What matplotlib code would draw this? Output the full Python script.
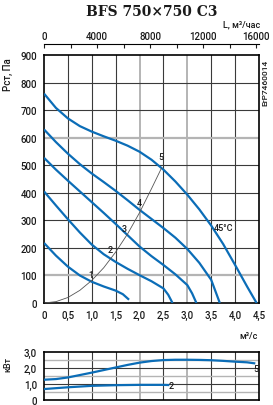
import matplotlib
matplotlib.use("Agg")
import matplotlib.pyplot as plt
import numpy as np

plt.rcParams['font.family'] = ['Roboto', 'DejaVu Sans']
plt.rcParams['font.weight'] = 'medium'

# --- data (Q in m3/s, P in Pa) ---
c1_q = [0, 0.25, 0.5, 0.75, 1.0, 1.25, 1.5, 1.65, 1.78]
c1_p = [218, 172, 132, 100, 77, 60, 45, 32, 12]

c2_q = [0, 0.25, 0.5, 0.75, 1.0, 1.25, 1.5, 1.75, 2.0, 2.25, 2.5, 2.6, 2.69]
c2_p = [405, 354, 304, 256, 212, 177, 149, 124, 101, 79, 53, 30, 0]

c3_q = [0, 0.25, 0.5, 0.75, 1.0, 1.25, 1.5, 1.75, 2.0, 2.25, 2.5, 2.75, 3.0, 3.1, 3.19]
c3_p = [527, 484, 444, 405, 366, 327, 287, 246, 205, 170, 138, 104, 65, 35, 0]

c4_q = [0, 0.25, 0.5, 0.75, 1.0, 1.25, 1.5, 1.75, 2.0, 2.25, 2.5, 2.75, 3.0, 3.25, 3.5, 3.68]
c4_p = [630, 584, 542, 504, 470, 439, 407, 373, 338, 305, 272, 237, 196, 146, 84, 0]

c5_q = [0, 0.25, 0.5, 0.75, 1.0, 1.25, 1.5, 1.75, 2.0, 2.25, 2.5, 2.75, 3.0, 3.25, 3.5, 3.75, 4.0, 4.25, 4.45]
c5_p = [760, 708, 670, 642, 622, 605, 589, 571, 549, 520, 484, 441, 393, 340, 281, 214, 138, 60, 0]

sys_q = [0, 0.25, 0.5, 0.75, 1.0, 1.25, 1.5, 1.75, 2.0, 2.25, 2.46]
sys_p = [0, 5, 20, 46, 82, 128, 185, 251, 328, 415, 490]

curve_names = ['1', '2', '3', '4', '5']
name_q = [0.98, 1.38, 1.67, 2.0, 2.45]
name_p = [102, 196, 272, 363, 533]

# power, kW
pw5_q = [0, 0.25, 0.5, 0.75, 1.0, 1.25, 1.5, 1.75, 2.0, 2.25, 2.5, 2.75, 3.0, 3.25, 3.5, 3.75, 4.0, 4.25, 4.4]
pw5_n = [1.26, 1.30, 1.40, 1.55, 1.70, 1.86, 2.02, 2.18, 2.32, 2.42, 2.48, 2.50, 2.50, 2.49, 2.47, 2.43, 2.38, 2.34, 2.28]
pw2_q = [0, 0.5, 1.0, 1.5, 2.0, 2.5, 2.6]
pw2_n = [0.68, 0.79, 0.88, 0.92, 0.94, 0.94, 0.93]

q_ticks = [0, 0.5, 1.0, 1.5, 2.0, 2.5, 3.0, 3.5, 4.0, 4.5]
q_labels = ['0', '0,5', '1,0', '1,5', '2,0', '2,5', '3,0', '3,5', '4,0', '4,5']
p_ticks = [0, 100, 200, 300, 400, 500, 600, 700, 800, 900]
L_ticks = [0, 4000, 8000, 12000, 16000]
n_ticks = [0, 1, 2, 3]
n_labels = ['0', '1,0', '2,0', '3,0']

blue = '#0b6db7'
dark = '#3a3a3a'
light = '#b4b4b4'
txt = '#1a1a1a'

fig = plt.figure(figsize=(2.73, 4.06), dpi=100)
ax = fig.add_axes([0.1612, 0.2512, 0.7875, 0.6108])
ax2 = fig.add_axes([0.1612, 0.0123, 0.7875, 0.119])

# grid - main
for q in q_ticks[1:-1]:
    if q in (2.0, 3.0):
        ax.axvline(q, color=light, lw=1.4, zorder=1)
    else:
        ax.axvline(q, color=dark, lw=0.8, zorder=1)
for p in p_ticks[1:-1]:
    if p in (100, 600):
        ax.axhline(p, color=light, lw=1.6, zorder=1)
    else:
        ax.axhline(p, color=dark, lw=0.8, zorder=1)

for cq, cp in [(c1_q, c1_p), (c2_q, c2_p), (c3_q, c3_p), (c4_q, c4_p), (c5_q, c5_p)]:
    ax.plot(cq, cp, color=blue, lw=1.6, zorder=3, solid_capstyle='butt', solid_joinstyle='round')
ax.plot(sys_q, sys_p, color='#555555', lw=0.6, zorder=4)

for nm, x, y in zip(curve_names, name_q, name_p):
    ax.text(x, y, nm, fontsize=6.5, color=txt, ha='center', va='center', zorder=5)
ax.text(3.55, 275, '45°C', fontsize=6.5, color=txt, ha='left', va='center', zorder=5)

ax.set_xlim(0, 4.5)
ax.set_ylim(0, 900)
ax.set_xticks(q_ticks)
ax.set_xticklabels(q_labels)
ax.set_yticks(p_ticks)
ax.tick_params(length=0, labelsize=7, pad=5, colors=txt)
for s in ax.spines.values():
    s.set_linewidth(1.2)
    s.set_color('black')

# top axis in m3/h
top = ax.secondary_xaxis('top', functions=(lambda q: q * 3600, lambda L: L / 3600))
top.spines['top'].set_position(('outward', 8))
top.spines['top'].set_linewidth(0.8)
top.set_xticks(L_ticks)
top.set_xticks([2000, 6000, 10000, 14000], minor=True)
top.tick_params(which='both', direction='in', length=3, width=0.8, labelsize=7, pad=2, colors=txt)

# lower panel (power)
for q in q_ticks[1:-1]:
    if q in (2.0, 3.0):
        ax2.axvline(q, color=light, lw=1.4, zorder=1)
    else:
        ax2.axvline(q, color=dark, lw=0.8, zorder=1)
for n in [0.5, 1.0, 1.5, 2.0, 2.5]:
    if n in (1.0, 2.0):
        ax2.axhline(n, color=dark, lw=0.8, zorder=1)
    else:
        ax2.axhline(n, color=light, lw=1.0, zorder=1)
ax2.plot(pw5_q, pw5_n, color=blue, lw=1.6, zorder=3)
ax2.plot(pw2_q, pw2_n, color=blue, lw=1.6, zorder=3)
ax2.text(4.44, 1.93, '5', fontsize=6.5, color=txt, ha='center', va='center')
ax2.text(2.66, 0.89, '2', fontsize=6.5, color=txt, ha='center', va='center')
ax2.set_xlim(0, 4.5)
ax2.set_ylim(0, 3)
ax2.set_xticks([])
ax2.set_yticks(n_ticks)
ax2.set_yticklabels(n_labels)
ax2.tick_params(length=0, labelsize=7, pad=5, colors=txt)
for s in ax2.spines.values():
    s.set_linewidth(1.2)
    s.set_color('black')

# texts
fig.text(0.556, 0.970, 'BFS 750×750 C3', family='DejaVu Serif', fontweight='bold',
         fontsize=10, ha='center', va='center', color=txt)
fig.text(0.952, 0.938, 'L, м³/час', fontsize=6.5, ha='right', va='center', color=txt)
fig.text(0.03, 0.815, 'Рст, Па', fontsize=7, rotation=90, ha='center', va='center', color=txt)
fig.text(0.971, 0.796, 'ErP7460014', fontsize=6, rotation=90, ha='center', va='center', color=txt)
fig.text(0.945, 0.170, 'м³/с', fontsize=6.5, ha='right', va='center', color=txt)
fig.text(0.03, 0.101, 'кВт', fontsize=6.5, rotation=90, ha='center', va='center', color=txt)

fig.savefig('out.png', dpi=100)
